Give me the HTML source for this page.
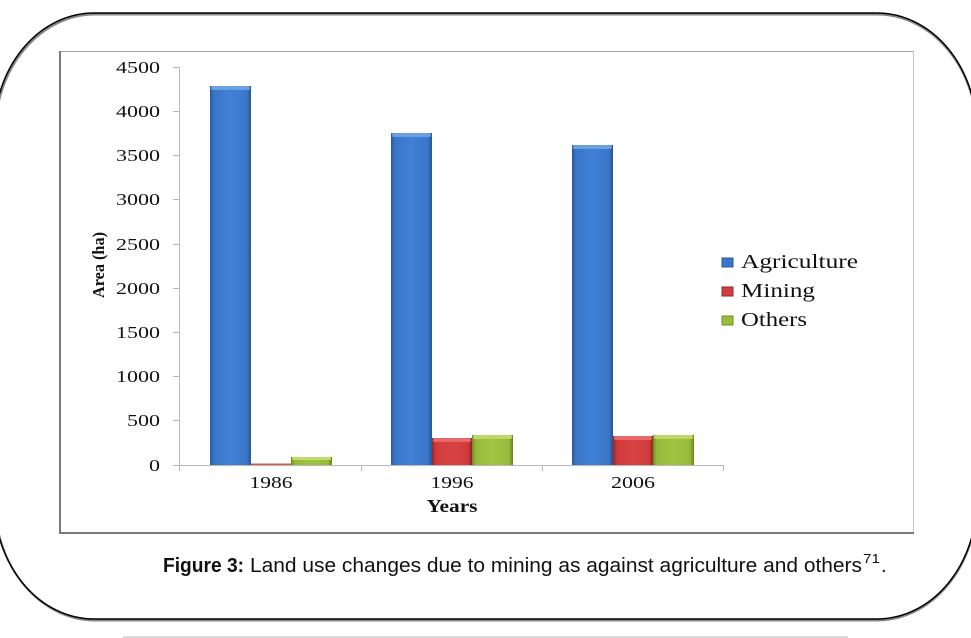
<!DOCTYPE html>
<html>
<head>
<meta charset="utf-8">
<style>
html,body{margin:0;padding:0;background:#fff;}
svg{display:block;}
</style>
</head>
<body>
<svg width="971" height="638" viewBox="0 0 971 638" xmlns="http://www.w3.org/2000/svg">
<defs>
  <linearGradient id="gb" x1="0" x2="1" y1="0" y2="0">
    <stop offset="0" stop-color="#2a5a9e"/>
    <stop offset="0.1" stop-color="#3a76c8"/>
    <stop offset="0.5" stop-color="#4081d6"/>
    <stop offset="0.9" stop-color="#3a76c8"/>
    <stop offset="1" stop-color="#27548f"/>
  </linearGradient>
  <linearGradient id="gr" x1="0" x2="1" y1="0" y2="0">
    <stop offset="0" stop-color="#9a2626"/>
    <stop offset="0.1" stop-color="#cf3a3a"/>
    <stop offset="0.5" stop-color="#d84444"/>
    <stop offset="0.9" stop-color="#cf3a3a"/>
    <stop offset="1" stop-color="#8e2222"/>
  </linearGradient>
  <linearGradient id="gg" x1="0" x2="1" y1="0" y2="0">
    <stop offset="0" stop-color="#6e8c24"/>
    <stop offset="0.1" stop-color="#98ba3a"/>
    <stop offset="0.5" stop-color="#a2c444"/>
    <stop offset="0.9" stop-color="#98ba3a"/>
    <stop offset="1" stop-color="#678320"/>
  </linearGradient>
</defs>

<!-- outer rounded frame -->
<rect x="-5" y="14.5" width="982" height="606" rx="100" ry="120" fill="none" stroke="#888" stroke-width="2"/>
<rect x="-6" y="13" width="983" height="606" rx="100" ry="120" fill="none" stroke="#000" stroke-width="1.5"/>

<!-- bottom separator -->
<line x1="123" y1="637" x2="848" y2="637" stroke="#cfcfcf" stroke-width="1.5"/>

<!-- chart frame -->
<line x1="59" y1="51.5" x2="913" y2="51.5" stroke="#a0a0a0" stroke-width="1"/>
<line x1="913.5" y1="51" x2="913.5" y2="533" stroke="#c8c8c8" stroke-width="1"/>
<line x1="60" y1="51" x2="60" y2="534" stroke="#7a7a7a" stroke-width="2"/>
<line x1="59" y1="533" x2="914" y2="533" stroke="#7a7a7a" stroke-width="2"/>

<!-- axes -->
<g stroke="#b8b8b8" stroke-width="1">
  <line x1="179.5" y1="67" x2="179.5" y2="465"/>
  <line x1="179" y1="465.5" x2="724" y2="465.5"/>
  <line x1="173" y1="67.5" x2="179" y2="67.5"/>
  <line x1="173" y1="111.5" x2="179" y2="111.5"/>
  <line x1="173" y1="155.5" x2="179" y2="155.5"/>
  <line x1="173" y1="199.5" x2="179" y2="199.5"/>
  <line x1="173" y1="244.5" x2="179" y2="244.5"/>
  <line x1="173" y1="288.5" x2="179" y2="288.5"/>
  <line x1="173" y1="332.5" x2="179" y2="332.5"/>
  <line x1="173" y1="376.5" x2="179" y2="376.5"/>
  <line x1="173" y1="420.5" x2="179" y2="420.5"/>
  <line x1="173" y1="465.5" x2="179" y2="465.5"/>
  <line x1="179.5" y1="465" x2="179.5" y2="471"/>
  <line x1="361.5" y1="465" x2="361.5" y2="471"/>
  <line x1="542.5" y1="465" x2="542.5" y2="471"/>
  <line x1="723.5" y1="465" x2="723.5" y2="471"/>
</g>

<!-- y tick labels -->
<g font-family="Liberation Serif, serif" font-size="17" fill="#111" text-anchor="end">
  <text x="160" y="73" textLength="44" lengthAdjust="spacingAndGlyphs">4500</text>
  <text x="160" y="117" textLength="44" lengthAdjust="spacingAndGlyphs">4000</text>
  <text x="160" y="161" textLength="44" lengthAdjust="spacingAndGlyphs">3500</text>
  <text x="160" y="205" textLength="44" lengthAdjust="spacingAndGlyphs">3000</text>
  <text x="160" y="250" textLength="44" lengthAdjust="spacingAndGlyphs">2500</text>
  <text x="160" y="294" textLength="44" lengthAdjust="spacingAndGlyphs">2000</text>
  <text x="160" y="338" textLength="44" lengthAdjust="spacingAndGlyphs">1500</text>
  <text x="160" y="382" textLength="44" lengthAdjust="spacingAndGlyphs">1000</text>
  <text x="160" y="426" textLength="33" lengthAdjust="spacingAndGlyphs">500</text>
  <text x="160" y="471" textLength="11" lengthAdjust="spacingAndGlyphs">0</text>
</g>

<!-- y axis title -->
<text transform="translate(104,265) rotate(-90)" font-family="Liberation Serif, serif" font-size="17" font-weight="bold" fill="#111" text-anchor="middle" textLength="66" lengthAdjust="spacingAndGlyphs">Area (ha)</text>

<!-- x labels -->
<g font-family="Liberation Serif, serif" font-size="17" fill="#111" text-anchor="middle">
  <text x="271" y="488" textLength="43" lengthAdjust="spacingAndGlyphs">1986</text>
  <text x="452" y="488" textLength="43" lengthAdjust="spacingAndGlyphs">1996</text>
  <text x="633" y="488" textLength="44" lengthAdjust="spacingAndGlyphs">2006</text>
</g>
<text x="452" y="512" font-family="Liberation Serif, serif" font-size="18" font-weight="bold" fill="#111" text-anchor="middle" textLength="51" lengthAdjust="spacingAndGlyphs">Years</text>

<!-- bars -->
<g>
  <!-- 1986 -->
  <rect x="210" y="86" width="41" height="379" fill="url(#gb)"/>
  <rect x="211" y="86" width="39" height="4" rx="2" fill="#6a9fe2"/>
  <rect x="251" y="463.5" width="40" height="1.5" fill="#d06040"/>
  <rect x="291" y="457" width="41" height="8" fill="url(#gg)"/>
  <rect x="292" y="457" width="39" height="3" rx="1.5" fill="#c0dc6a"/>
  <!-- 1996 -->
  <rect x="391" y="133" width="41" height="332" fill="url(#gb)"/>
  <rect x="392" y="133" width="39" height="4" rx="2" fill="#6a9fe2"/>
  <rect x="432" y="438" width="40" height="27" fill="url(#gr)"/>
  <rect x="433" y="438" width="38" height="4" rx="2" fill="#e66a6a"/>
  <rect x="472" y="435" width="41" height="30" fill="url(#gg)"/>
  <rect x="473" y="435" width="39" height="4" rx="2" fill="#bcd866"/>
  <!-- 2006 -->
  <rect x="572" y="145" width="41" height="320" fill="url(#gb)"/>
  <rect x="573" y="145" width="39" height="4" rx="2" fill="#6a9fe2"/>
  <rect x="613" y="436" width="40" height="29" fill="url(#gr)"/>
  <rect x="614" y="436" width="38" height="4" rx="2" fill="#e66a6a"/>
  <rect x="653" y="435" width="41" height="30" fill="url(#gg)"/>
  <rect x="654" y="435" width="39" height="4" rx="2" fill="#bcd866"/>
</g>

<!-- legend -->
<rect x="722" y="258" width="11" height="9" fill="#3a76c8" stroke="#2a5a9e" stroke-width="1"/>
<rect x="722" y="287" width="11" height="9" fill="#d23c3c" stroke="#9a2626" stroke-width="1"/>
<rect x="722" y="316" width="11" height="9" fill="#9cbd3c" stroke="#6e8c24" stroke-width="1"/>
<g font-family="Liberation Serif, serif" font-size="20" fill="#111">
  <text x="741" y="268" textLength="117" lengthAdjust="spacingAndGlyphs">Agriculture</text>
  <text x="741" y="297" textLength="74" lengthAdjust="spacingAndGlyphs">Mining</text>
  <text x="741" y="326" textLength="66" lengthAdjust="spacingAndGlyphs">Others</text>
</g>

<!-- caption -->
<g font-family="Liberation Sans, sans-serif" font-size="20" fill="#111">
  <text x="163" y="572" font-weight="bold" textLength="81" lengthAdjust="spacingAndGlyphs">Figure 3:</text>
  <text x="250" y="572" textLength="612" lengthAdjust="spacingAndGlyphs">Land use changes due to mining as against agriculture and others</text>
  <text x="863" y="563" font-size="13" textLength="17" lengthAdjust="spacingAndGlyphs">71</text>
  <text x="881" y="572">.</text>
</g>
</svg>
</body>
</html>
